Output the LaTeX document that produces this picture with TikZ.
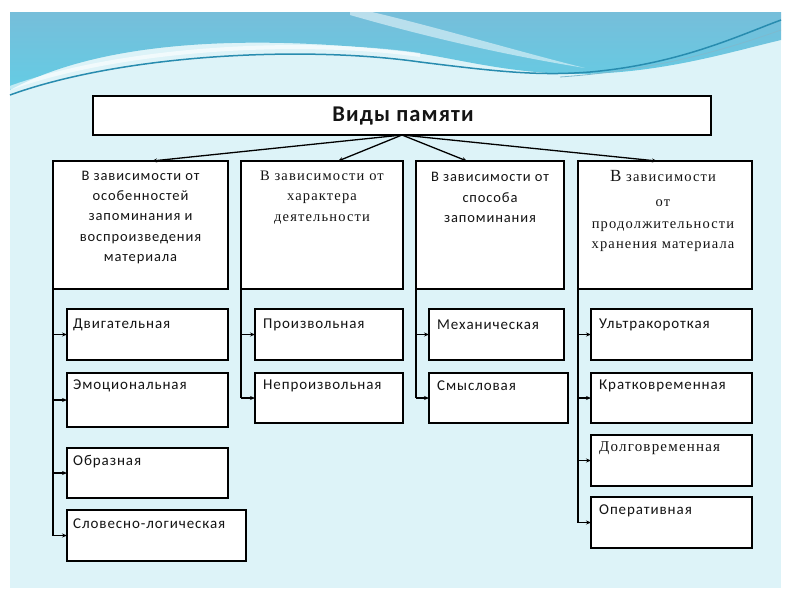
\documentclass[tikz,border=0pt]{standalone}
\usepackage{fontspec}
\setmainfont{Carlito}[LetterSpace=6]
\newfontfamily\serifcyr{Liberation Serif}[LetterSpace=8]
\newfontfamily\titlefont{Carlito}[LetterSpace=5]
\usetikzlibrary{arrows.meta}
\definecolor{slidebg}{RGB}{221,243,248}
\definecolor{bannertop}{RGB}{118,190,218}
\definecolor{bannerbot}{RGB}{100,204,228}
\definecolor{wave}{RGB}{40,140,175}
\definecolor{ink}{RGB}{20,20,20}
\tikzset{
  boxshape/.style={draw=black, line width=1.7pt, fill=white, inner sep=0pt, outer sep=0pt, anchor=north west},
  htext/.style={align=center, text=ink, font=\fontsize{14.5}{20.3}\selectfont, inner sep=0pt},
  hserif/.style={align=center, text=ink, font=\serifcyr\fontsize{14.5}{20.3}\selectfont, inner sep=0pt},
  ctext/.style={anchor=west, text=ink, font=\fontsize{15}{17}\selectfont, inner sep=0pt},
  link/.style={draw=black, line width=1.3pt, -{Stealth[length=5pt,width=4pt]}},
  plain/.style={draw=black, line width=1.3pt}
}
\begin{document}
\begin{tikzpicture}[x=1pt,y=-1pt]
\useasboundingbox (0,0) rectangle (800,600);
\fill[white] (0,0) rectangle (800,600);
\fill[slidebg] (10,12) rectangle (781,588);
% banner
\shade[top color=bannertop, bottom color=bannerbot]
  (10,12) -- (781,12) -- (781,40) .. controls (730,52) and (660,74) .. (575,74)
  .. controls (500,73) and (450,56) .. (400,51)
  .. controls (300,40) and (120,30) .. (10,90) -- cycle;
\fill[white, opacity=0.5] (350,12) -- (372,12) .. controls (440,28) and (520,52) .. (585,68)
  .. controls (510,56) and (430,38) .. (350,15) -- cycle;
\draw[white, opacity=0.6, line width=4pt] (10,88) .. controls (120,48) and (300,38) .. (420,55);
\draw[wave, line width=1.5pt] (10,95) .. controls (120,55) and (300,45) .. (420,62)
  .. controls (500,72) and (540,76) .. (590,72) .. controls (680,64) and (740,35) .. (781,20);
\draw[wave!60, line width=0.8pt] (560,77) .. controls (660,70) and (730,48) .. (781,30);

% title
\node[boxshape, minimum width=618pt, minimum height=39pt] (title) at (93,96) {};
\node[font=\titlefont\bfseries\fontsize{22.5}{26}\selectfont, text=ink, inner sep=0pt] (titletext) at (403,116) {Виды памяти};

% headers
\node[boxshape, minimum width=175pt, minimum height=128pt] (h1) at (53,161) {};
\node[boxshape, minimum width=162pt, minimum height=128pt] (h2) at (241,161) {};
\node[boxshape, minimum width=148pt, minimum height=128pt] (h3) at (416,161) {};
\node[boxshape, minimum width=174pt, minimum height=128pt] (h4) at (578,161) {};
\node[htext] (h1t) at (140.5,217.5) {В зависимости от\\особенностей\\запоминания и\\воспроизведения\\материала};
\node[hserif] (h2t) at (322,197.5) {В зависимости от\\характера\\деятельности};
\node[htext] (h3t) at (490,197.5) {В зависимости от\\способа\\запоминания};
\node[hserif] (h4t) at (663,211) {\fontsize{17}{20}\selectfont В\fontsize{14.5}{20.3}\selectfont{} зависимости\\[5pt]от\\[1pt]продолжительности\\хранения материала};

% children
\node[boxshape, minimum width=161pt, minimum height=51pt] (c1) at (67,309) {};
\node[boxshape, minimum width=161pt, minimum height=54pt] (c2) at (67,373) {};
\node[boxshape, minimum width=161pt, minimum height=50pt] (c3) at (67,448) {};
\node[boxshape, minimum width=179pt, minimum height=51pt] (c4) at (67,510) {};
\node[boxshape, minimum width=148pt, minimum height=51pt] (d1) at (255,309) {};
\node[boxshape, minimum width=148pt, minimum height=50pt] (d2) at (255,373) {};
\node[boxshape, minimum width=135pt, minimum height=51pt] (e1) at (429,309) {};
\node[boxshape, minimum width=139pt, minimum height=50pt] (e2) at (429,373) {};
\node[boxshape, minimum width=161pt, minimum height=51pt] (f1) at (591,309) {};
\node[boxshape, minimum width=161pt, minimum height=50pt] (f2) at (591,373) {};
\node[boxshape, minimum width=161pt, minimum height=51pt] (f3) at (591,435) {};
\node[boxshape, minimum width=161pt, minimum height=51pt] (f4) at (591,497) {};

\node[ctext] (c1t) at (73,325) {Двигательная};
\node[ctext] (c2t) at (73,386) {Эмоциональная};
\node[ctext] (c3t) at (73,462) {Образная};
\node[ctext] (c4t) at (73,524) {Словесно-логическая};
\node[ctext] (d1t) at (263,325) {Произвольная};
\node[ctext] (d2t) at (263,386) {Непроизвольная};
\node[ctext] (e1t) at (437,325) {Механическая};
\node[ctext] (e2t) at (437,386) {Смысловая};
\node[ctext] (f1t) at (599,325) {Ультракороткая};
\node[ctext] (f2t) at (599,386) {Кратковременная};
\node[ctext, font=\serifcyr\fontsize{15}{17}\selectfont] (f3t) at (599,448) {Долговременная};
\node[ctext] (f4t) at (599,511) {Оперативная};

% title arrows
\draw[link] (title.south) -- ([xshift=11.5pt]h1.north);
\draw[link] (title.south) -- ([xshift=16pt]h2.north);
\draw[link] (title.south) -- ([xshift=-23pt]h3.north);
\draw[link] (title.south) -- ([xshift=-8pt]h4.north);

% branches
\draw[plain] (h1.south west) -- (h1.south west |- c4.west);
\draw[link] (h1.south west |- c1.west) -- (c1.west);
\draw[link] (h1.south west |- c2.west) -- (c2.west);
\draw[link] (h1.south west |- c3.west) -- (c3.west);
\draw[link] (h1.south west |- c4.west) -- (c4.west);

\draw[plain] (h2.south west) -- (h2.south west |- d2.west);
\draw[link] (h2.south west |- d1.west) -- (d1.west);
\draw[link] (h2.south west |- d2.west) -- (d2.west);

\draw[plain] (h3.south west) -- (h3.south west |- e2.west);
\draw[link] (h3.south west |- e1.west) -- (e1.west);
\draw[link] (h3.south west |- e2.west) -- (e2.west);

\draw[plain] (h4.south west) -- (h4.south west |- f4.west);
\draw[link] (h4.south west |- f1.west) -- (f1.west);
\draw[link] (h4.south west |- f2.west) -- (f2.west);
\draw[link] (h4.south west |- f3.west) -- (f3.west);
\draw[link] (h4.south west |- f4.west) -- (f4.west);
\end{tikzpicture}
\end{document}
